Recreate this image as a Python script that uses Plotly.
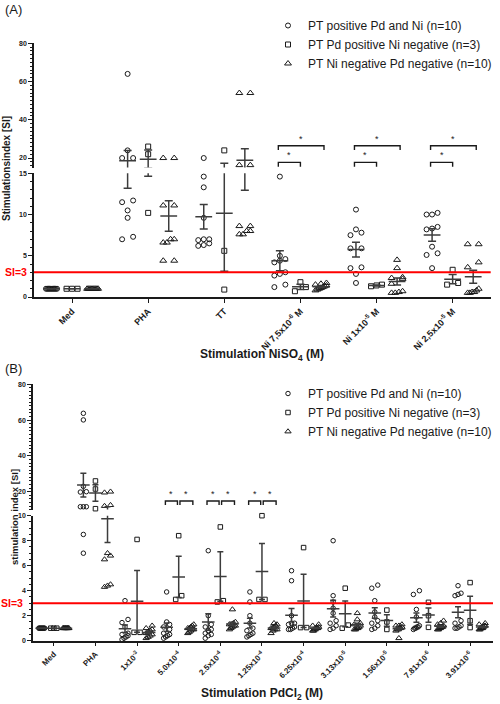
import math
import plotly.graph_objects as go

# ---------------- data ----------------
series_names = ["PT positive Pd and Ni (n=10)",
                "PT Pd positive Ni negative (n=3)",
                "PT Ni negative Pd negative (n=10)"]

A_categories = ["Med", "PHA", "TT",
                "Ni 7,5x10<sup>-6</sup> M", "Ni 1x10<sup>-5</sup> M", "Ni 2,5x10<sup>-5</sup> M"]
A_pos_pd_ni = [
    [1.0, 1.0, 1.0, 1.0, 1.0, 1.0, 1.0, 1.0, 1.0, 1.0],
    [64.0, 24.0, 20.0, 20.0, 11.5, 11.7, 10.5, 9.6, 7.0, 7.3],
    [20.0, 14.6, 13.3, 9.6, 7.0, 7.0, 6.9, 6.5, 6.3, 6.2],
    [14.6, 5.0, 4.6, 4.4, 4.2, 3.0, 2.8, 2.6, 1.5, 1.2],
    [10.6, 8.2, 7.8, 7.5, 5.9, 5.9, 3.5, 3.6, 2.8, 1.7],
    [10.0, 10.0, 10.2, 8.5, 8.3, 8.2, 6.1, 5.1, 5.3, 3.5],
]
A_pd_pos_ni_neg = [
    [1.0, 1.0, 1.0],
    [26.0, 22.0, 10.2],
    [24.0, 5.6, 0.9],
    [1.8, 0.7, 1.2],
    [1.3, 1.5, 1.4],
    [3.3, 1.5, 1.7],
]
A_ni_neg_pd_neg = [
    [1.0, 1.0, 1.0, 1.0, 1.0, 1.0, 1.0, 1.0, 1.0, 1.0],
    [20.0, 20.0, 11.1, 11.1, 7.0, 7.0, 6.6, 6.6, 4.4, 4.4],
    [54.0, 54.0, 16.3, 16.3, 8.6, 8.6, 8.0, 8.0, 7.6, 7.6],
    [1.7, 1.6, 1.5, 1.4, 1.3, 1.2, 1.1, 1.0, 0.9, 0.8],
    [4.5, 3.5, 2.4, 2.3, 2.2, 1.6, 0.7, 0.6, 0.5, 0.5],
    [6.4, 6.4, 4.2, 3.6, 1.0, 0.8, 0.6, 0.6, 0.5, 0.5],
]

B_categories = ["Med", "PHA", "1x10<sup>-3</sup>", "5.0x10<sup>-4</sup>", "2.5x10<sup>-4</sup>",
                "1.25x10<sup>-4</sup>", "6.25x10<sup>-4</sup>", "3.13x10<sup>-5</sup>",
                "1.56x10<sup>-5</sup>", "7.81x10<sup>-6</sup>", "3.91x10<sup>-6</sup>"]
B_pos_pd_ni = [
    [1.0, 1.0, 1.0, 1.0, 1.0, 1.0, 1.0, 1.0, 1.0, 1.0],
    [63.8, 60.1, 23.0, 20.0, 19.8, 11.6, 11.6, 11.6, 8.5, 7.0],
    [3.2, 1.7, 1.45, 1.1, 0.6, 0.5, 0.4, 0.3, 0.2, 0.1],
    [3.9, 1.5, 1.3, 1.1, 0.9, 0.6, 0.5, 0.4, 0.3, 0.2],
    [7.2, 2.0, 1.3, 1.1, 0.9, 0.8, 0.6, 0.5, 0.4, 0.2],
    [3.9, 3.1, 2.0, 1.4, 1.0, 0.8, 0.6, 0.5, 0.4, 0.3],
    [5.6, 4.8, 2.0, 1.4, 1.4, 1.3, 1.1, 1.0, 0.9, 0.9],
    [8.0, 3.6, 3.1, 2.6, 2.2, 1.6, 1.4, 1.2, 1.0, 0.9],
    [4.45, 4.2, 3.2, 2.3, 1.9, 1.6, 1.4, 1.2, 1.0, 0.9],
    [4.0, 3.7, 2.5, 1.9, 1.2, 1.1, 1.1, 1.0, 1.0, 0.9],
    [4.4, 3.8, 3.7, 3.6, 1.6, 1.4, 1.2, 1.1, 1.0, 1.0],
]
B_pd_pos_ni_neg = [
    [1.0, 1.0, 1.0],
    [26.0, 21.5, 10.5],
    [8.1, 0.67, 0.67],
    [8.4, 3.6, 3.3],
    [9.1, 3.1, 3.2],
    [10.0, 3.3, 3.3],
    [7.45, 1.05, 1.05],
    [4.2, 1.0, 1.25],
    [2.45, 1.5, 0.9],
    [3.07, 2.0, 1.07],
    [4.65, 1.6, 1.05],
]
B_ni_neg_pd_neg = [
    [1.0, 1.0, 1.0, 1.0, 1.0, 1.0, 1.0, 1.0, 1.0, 1.0],
    [20.0, 19.5, 12.5, 12.0, 7.0, 6.8, 6.5, 4.5, 4.4, 4.3],
    [1.2, 1.0, 0.9, 0.8, 0.7, 0.6, 0.5, 0.4, 0.3, 0.2],
    [1.3, 1.2, 1.1, 1.0, 1.0, 0.9, 0.9, 0.8, 0.7, 0.6],
    [2.5, 1.5, 1.4, 1.3, 1.3, 1.2, 1.2, 1.1, 1.0, 0.9],
    [1.4, 1.3, 1.2, 1.1, 1.0, 1.0, 0.9, 0.9, 0.8, 0.6],
    [1.3, 1.2, 1.1, 1.0, 1.0, 1.0, 0.9, 0.9, 0.8, 0.8],
    [2.2, 1.7, 1.4, 1.3, 1.2, 1.1, 1.0, 1.0, 0.9, 0.9],
    [1.3, 1.2, 1.2, 1.1, 1.0, 1.0, 0.9, 0.9, 0.8, 0.2],
    [1.6, 1.4, 1.3, 1.2, 1.1, 1.1, 1.0, 1.0, 0.9, 0.9],
    [1.4, 1.3, 1.2, 1.2, 1.1, 1.0, 1.0, 1.0, 0.9, 0.9],
]

A_significant = [3, 4, 5]   # categories with * brackets in panel A
B_significant = [3, 4, 5]   # categories with * brackets in panel B
SI_threshold = 3

# ---------------- styling / layout ----------------
W, H = 500, 704
FONT = "Liberation Sans, Arial, sans-serif"
INK = "#1a1a1a"
BAR = "#3c3c3c"
SYMBOLS = ["circle-open", "square-open", "triangle-up-open"]


def fx(px):
    return px / W


def fy(py):
    return 1 - py / H


panels = [
    dict(cats=A_categories, series=[A_pos_pd_ni, A_pd_pos_ni_neg, A_ni_neg_pd_neg],
         xpx=(34, 490.7), xrange=(-0.5, 5.5),
         lowpx=(297.0, 173.3), highpx=(167.6, 43.3), brk=15, top=80,
         lowticks=[0, 5, 10, 15], lowminor=1, xfont=9,
         xa="x", ylo="y", yhi="y2", legend="legend",
         goff=0.27, spread=11, thr=5, msize=5, tsize=6, meanw=12, capw=4,
         sig=A_significant),
    dict(cats=B_categories, series=[B_pos_pd_ni, B_pd_pos_ni_neg, B_ni_neg_pd_neg],
         xpx=(33, 493), xrange=(-0.5, 10.55),
         lowpx=(640.7, 515.7), highpx=(509.6, 384.3), brk=10, top=80,
         lowticks=[0, 2, 4, 6, 8, 10], lowminor=0.5, xfont=8,
         xa="x2", ylo="y3", yhi="y4", legend="legend2",
         goff=0.29, spread=6, thr=4, msize=4.5, tsize=5.5, meanw=9, capw=3,
         sig=B_significant),
]


def vpix(v, P):
    if v <= P["brk"]:
        y0, y1 = P["lowpx"]
        return y0 - v * (y0 - y1) / P["brk"]
    y0, y1 = P["highpx"]
    return y0 - (v - P["brk"]) * (y0 - y1) / (P["top"] - P["brk"])


def swarm(vals, P):
    """Prism-like scatter dot layout: points of similar height share a row."""
    ys = [vpix(v, P) for v in vals]
    order = sorted(range(len(vals)), key=lambda i: -ys[i])
    rows, cur = [], [order[0]]
    for i in order[1:]:
        if abs(ys[i] - ys[cur[0]]) < P["thr"]:
            cur.append(i)
        else:
            rows.append(cur)
            cur = [i]
    rows.append(cur)
    off = [0.0] * len(vals)
    for r in rows:
        k = len(r)
        if k > 1:
            for j, i in enumerate(r):
                off[i] = -P["spread"] / 2 + P["spread"] * j / (k - 1)
    return off


def mean_sem(vals):
    n = len(vals)
    m = sum(vals) / n
    sd = math.sqrt(sum((v - m) ** 2 for v in vals) / (n - 1)) if n > 1 else 0.0
    return m, sd / math.sqrt(n)


fig = go.Figure()

for P in panels:
    px_per_unit = (P["xpx"][1] - P["xpx"][0]) / (P["xrange"][1] - P["xrange"][0])
    for s, data in enumerate(P["series"]):
        g = (s - 1) * P["goff"]
        xlo, ylo, xhi, yhi = [], [], [], []
        mx, my, me = [], [], []
        for c, vals in enumerate(data):
            offs = swarm(vals, P)
            for v, o in zip(vals, offs):
                xv = c + g + o / px_per_unit
                if v <= P["brk"]:
                    xlo.append(xv); ylo.append(v)
                else:
                    xhi.append(xv); yhi.append(v)
            m, e = mean_sem(vals)
            mx.append(c + g); my.append(m); me.append(e)
        size = P["tsize"] if s == 2 else P["msize"]
        mk = dict(symbol=SYMBOLS[s], size=size, color=INK, line=dict(color=INK, width=1))
        fig.add_trace(go.Scatter(x=xlo, y=ylo, mode="markers", marker=mk, name=series_names[s],
                                 xaxis=P["xa"], yaxis=P["ylo"], cliponaxis=False,
                                 legend=P["legend"], showlegend=True, hoverinfo="skip"))
        fig.add_trace(go.Scatter(x=xhi, y=yhi, mode="markers", marker=mk, name=series_names[s],
                                 xaxis=P["xa"], yaxis=P["yhi"], cliponaxis=False,
                                 legend=P["legend"], showlegend=False, hoverinfo="skip"))
        # mean ± SEM on both segments of the broken axis (clipped to each)
        for ya in (P["ylo"], P["yhi"]):
            fig.add_trace(go.Scatter(
                x=mx, y=my, mode="markers", xaxis=P["xa"], yaxis=ya, cliponaxis=True,
                marker=dict(symbol="line-ew", size=P["meanw"], color=BAR,
                            line=dict(color=BAR, width=1.5)),
                error_y=dict(type="data", array=me, color=BAR, thickness=1.5, width=P["capw"]),
                showlegend=False, hoverinfo="skip"))

axis_common = dict(showline=True, linecolor=INK, linewidth=1.5, ticks="outside",
                   tickcolor=INK, tickwidth=1.2, showgrid=False, zeroline=False,
                   automargin=False,
                   tickfont=dict(family=FONT, size=7, color=INK, weight="bold"))

layout = dict(width=W, height=H, margin=dict(l=0, r=0, t=0, b=0, autoexpand=False),
              paper_bgcolor="white", plot_bgcolor="white", font=dict(family=FONT, color=INK))

for i, P in enumerate(panels):
    xname = "xaxis" if P["xa"] == "x" else "xaxis" + P["xa"][1:]
    yl = "yaxis" if P["ylo"] == "y" else "yaxis" + P["ylo"][1:]
    yh = "yaxis" + P["yhi"][1:]
    layout[xname] = dict(axis_common, domain=[fx(P["xpx"][0]), fx(P["xpx"][1])],
                         range=list(P["xrange"]), anchor=P["ylo"],
                         tickvals=list(range(len(P["cats"]))), ticktext=P["cats"],
                         tickangle=-45, ticklen=4,
                         tickfont=dict(family=FONT, size=P["xfont"], color=INK, weight="bold"))
    layout[yl] = dict(axis_common, domain=[fy(P["lowpx"][0]), fy(P["lowpx"][1])],
                      range=[0, P["brk"]], anchor=P["xa"], tickvals=P["lowticks"], ticklen=4,
                      minor=dict(dtick=P["lowminor"], ticklen=2, ticks="outside",
                                 tickcolor=INK, tickwidth=1))
    layout[yh] = dict(axis_common, domain=[fy(P["highpx"][0]), fy(P["highpx"][1])],
                      range=[P["brk"], P["top"]], anchor=P["xa"], tickvals=[20, 40, 60, 80],
                      ticklen=4,
                      minor=dict(dtick=2, ticklen=2, ticks="outside", tickcolor=INK, tickwidth=1))

layout["legend"] = dict(x=fx(268), y=fy(11), xanchor="left", yanchor="top",
                        font=dict(family=FONT, size=12, color=INK), bgcolor="rgba(0,0,0,0)")
layout["legend2"] = dict(x=fx(268), y=fy(379), xanchor="left", yanchor="top",
                         font=dict(family=FONT, size=12, color=INK), bgcolor="rgba(0,0,0,0)")

shapes, annotations = [], []
# SI = 3 threshold lines
for P, lab_x in zip(panels, (29, 25)):
    shapes.append(dict(type="line", xref=P["xa"] + " domain", x0=0, x1=1,
                       yref=P["ylo"], y0=SI_threshold, y1=SI_threshold,
                       line=dict(color="#ff0000", width=2)))
    annotations.append(dict(text="SI=3", xref="paper", x=fx(lab_x), xanchor="right",
                            yref=P["ylo"], y=SI_threshold, yanchor="middle", showarrow=False,
                            font=dict(family=FONT, size=10.5, color="#ff0000", weight="bold")))


def bracket(xa, ya, x0, x1, ytop, yleg):
    shapes.append(dict(type="path", xref=xa, yref=ya,
                       path=f"M {x0},{yleg} L {x0},{ytop} L {x1},{ytop} L {x1},{yleg}",
                       line=dict(color=INK, width=1.4)))
    annotations.append(dict(text="*", xref=xa, yref=ya, x=(x0 + x1) / 2, y=ytop,
                            xanchor="center", yanchor="bottom", showarrow=False,
                            font=dict(family=FONT, size=9, color=INK)))


PA, PB = panels
for c in PA["sig"]:
    bracket(PA["xa"], PA["yhi"], c - 0.29, c + 0.31, 26.4, 24.2)
    bracket(PA["xa"], PA["yhi"], c - 0.29, c + 0.0, 17.75, 15.5)
for c in PB["sig"]:
    bracket(PB["xa"], PB["yhi"], c - 0.32, c - 0.03, 14.8, 12.6)
    bracket(PB["xa"], PB["yhi"], c + 0.03, c + 0.34, 14.8, 12.6)

# titles
annotations += [
    dict(text="(A)", xref="paper", yref="paper", x=fx(3), y=fy(9), xanchor="left",
         yanchor="middle", showarrow=False, font=dict(family=FONT, size=13, color=INK)),
    dict(text="(B)", xref="paper", yref="paper", x=fx(3), y=fy(368), xanchor="left",
         yanchor="middle", showarrow=False, font=dict(family=FONT, size=13, color=INK)),
    dict(text="Stimulationsindex [SI]", xref="paper", yref="paper", x=fx(7), y=fy(169),
         xanchor="center", yanchor="middle", textangle=-90, showarrow=False,
         font=dict(family=FONT, size=10, color=INK, weight="bold")),
    dict(text="stimulation index [SI]", xref="paper", yref="paper", x=fx(14), y=fy(517),
         xanchor="center", yanchor="middle", textangle=-90, showarrow=False,
         font=dict(family=FONT, size=9.5, color=INK, weight="bold")),
    dict(text="Stimulation NiSO<sub>4</sub> (M)", xref="paper", yref="paper", x=fx(262),
         y=fy(355), xanchor="center", yanchor="middle", showarrow=False,
         font=dict(family=FONT, size=12, color=INK, weight="bold")),
    dict(text="Stimulation PdCl<sub>2</sub> (M)", xref="paper", yref="paper", x=fx(262),
         y=fy(694), xanchor="center", yanchor="middle", showarrow=False,
         font=dict(family=FONT, size=12, color=INK, weight="bold")),
]

layout["shapes"] = shapes
layout["annotations"] = annotations
fig.update_layout(**layout)
# remove the browser's default 8px body margin so the 500x704 figure fills the window exactly
fig.write_html("out.html",
               config={"displayModeBar": False},
               post_script="document.body.style.margin='0';document.body.style.overflow='hidden';")
